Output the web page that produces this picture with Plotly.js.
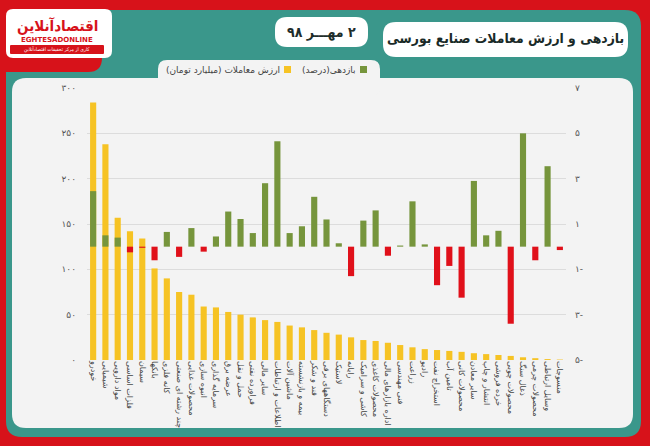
<!DOCTYPE html>
<html><head><meta charset="utf-8">
<script src="https://cdn.plot.ly/plotly-3.0.1.min.js"></script>
<style>html,body{margin:0;padding:0;background:#d7121a;}#chart{width:650px;height:446px;}</style>
</head><body><div id="chart"></div>
<script>
// ---- data ----
const categories = [
  "خودرو","شیمیایی","مواد دارویی","فلزات اساسی","سیمان","بانکها","کانه فلزی",
  "چند رشته ای صنعتی","محصولات غذایی","انبوه سازی","سرمایه گذاری","عرضه برق",
  "حمل و نقل","فراورده نفتی","سایر مالی","اطلاعات و ارتباطات","ماشین آلات",
  "بیمه و بازنشسته","قند و شکر","دستگاههای برقی","لاستیک","رایانه",
  "کاشی و سرامیک","محصولات کاغذی","اداره بازارهای مالی","فنی مهندسی","زراعت",
  "رادیو","استخراج نفت","تامین آب","محصولات کانی","سایر معادن","انتشار و چاپ",
  "خرده فروشی","محصولات چوبی","ذغال سنگ","محصولات چرمی","وسایل ارتباطی","منسوجات"
];
const tradeValue = [284,238,157,142,134,101,90,75,72,59,58,53,50,47,44,42,38,36,33,30,28,25,22,21,19,16.5,14,12,11,10,9,7.5,6.5,5.5,4.5,3,2,1,0.5];
const returnPct = [2.45,0.5,0.4,-0.25,-0.05,-0.6,0.65,-0.45,0.82,-0.22,0.45,1.55,1.22,0.6,2.8,4.65,0.6,0.9,2.2,1.2,0.15,-1.3,1.15,1.6,-0.4,0.05,2.0,0.1,-1.7,-0.85,-2.25,2.9,0.5,0.7,-3.4,5.0,-0.6,3.55,-0.15];
const leftTicks = [0,50,100,150,200,250,300];
const rightTicks = [-5,-3,-1,1,3,5,7];
const seriesNames = ["ارزش معاملات (میلیارد تومان)","بازدهی(درصد)"];

// ---- helpers ----
const faDigits = "۰۱۲۳۴۵۶۷۸۹";
function fa(n){ const s = String(Math.abs(n)).replace(/\d/g,d=>faDigits[d]); return n<0 ? s+"-" : s; }
const rtl = s => "\u202B"+s+"\u202C";

const W=650,H=446, M={l:87,r:84,t:88,b:86};
const PW=W-M.l-M.r, PH=H-M.t-M.b;
const px = x => (x-M.l)/PW;
const py = y => (H-M.b-y)/PH;
function P(x,y){return px(x).toFixed(5)+','+py(y).toFixed(5);}
function rrect(x0,y0,x1,y1,r){
  return 'M'+P(x0+r,y0)+' L'+P(x1-r,y0)+' Q'+P(x1,y0)+' '+P(x1,y0+r)+
    ' L'+P(x1,y1-r)+' Q'+P(x1,y1)+' '+P(x1-r,y1)+' L'+P(x0+r,y1)+
    ' Q'+P(x0,y1)+' '+P(x0,y1-r)+' L'+P(x0,y0+r)+' Q'+P(x0,y0)+' '+P(x0+r,y0)+' Z';
}
function shp(path,fill,layer){return {type:'path',xref:'paper',yref:'paper',path:path,fillcolor:fill,line:{width:0},layer:layer||'below'};}
function ann(text,x,y,opts){return Object.assign({text:text,x:px(x),y:py(y),xref:'paper',yref:'paper',showarrow:false},opts);}

const RED="#d7121a", TEAL="#3a978b", PANEL="#f3f3f3";
const FONT="DejaVu Sans, sans-serif";
const CFONT="DejaVu Sans Condensed, DejaVu Sans, sans-serif";

const shapes = [
  shp(rrect(6,10,641,437,16),TEAL),
  shp(rrect(-20,-20,102,72,14),RED),
  shp(rrect(12,78,633,428,14),PANEL),
  shp(rrect(158,60,380,96,9),PANEL),
  shp(rrect(6,9,112,58,7),"#ffffff"),
  shp(rrect(10,45,104,54,1),RED),
  shp(rrect(275,17,368,47,12),"#ffffff"),
  shp(rrect(383,22,628,57,13),"#ffffff"),
  shp(rrect(284,66,291,73,0),"#f6c324","above"),
  shp(rrect(360,66,367,73,0),"#76953c","above")
];

const annotations = [
  ann(rtl("اقتصادآنلاین"),57,26,{xanchor:'center',yanchor:'middle',font:{family:CFONT,size:15,color:RED,weight:'bold'}}),
  ann("EGHTESADONLINE",57,40,{xanchor:'center',yanchor:'middle',font:{family:FONT,size:7,color:RED,weight:'bold'}}),
  ann(rtl("کاری از مرکز تحقیقات اقتصادآنلاین"),57,49.5,{xanchor:'center',yanchor:'middle',font:{family:CFONT,size:5,color:"#ffffff"}}),
  ann(rtl("۲ مهـــر ۹۸"),321,32,{xanchor:'center',yanchor:'middle',font:{family:CFONT,size:14,color:"#1e2d2b",weight:'bold'}}),
  ann(rtl("بازدهی و ارزش معاملات صنایع بورسی"),505,39,{xanchor:'center',yanchor:'middle',font:{family:CFONT,size:13.8,color:"#1a2a28",weight:'bold'}}),
  ann(rtl(seriesNames[0]),282,70,{xanchor:'right',yanchor:'middle',font:{family:FONT,size:9,color:"#444"}}),
  ann(rtl(seriesNames[1]),358,70,{xanchor:'right',yanchor:'middle',font:{family:FONT,size:9,color:"#444"}})
];

const traces = [
  {type:'bar',name:seriesNames[0],x:categories,y:tradeValue,yaxis:'y',
   marker:{color:"#f6c324"},width:0.5,hoverinfo:'x+y'},
  {type:'bar',name:seriesNames[1],x:categories,y:returnPct,yaxis:'y2',
   marker:{color:returnPct.map(v=>v>=0?"#76953c":"#e0101a")},width:0.5,hoverinfo:'x+y'}
];

const layout = {
  width:W,height:H,margin:M,
  paper_bgcolor:RED,plot_bgcolor:'rgba(0,0,0,0)',
  barmode:'overlay',showlegend:false,
  font:{family:FONT},
  xaxis:{type:'category',tickangle:90,showgrid:false,zeroline:false,showline:false,ticks:'',
    tickfont:{family:FONT,size:8,color:"#444"},automargin:false,range:[-0.5,38.5]},
  yaxis:{range:[0,300],tickvals:leftTicks,ticktext:leftTicks.map(fa),showgrid:true,gridcolor:"#dcdcdc",gridwidth:1,
    zeroline:false,showline:false,ticks:'',tickfont:{family:FONT,size:9,color:"#555"},ticklabelstandoff:10,automargin:false},
  yaxis2:{overlaying:'y',side:'right',range:[-5,7],tickvals:rightTicks,ticktext:rightTicks.map(fa),showgrid:false,
    zeroline:false,showline:false,ticks:'',tickfont:{family:FONT,size:9,color:"#555"},ticklabelstandoff:8,automargin:false},
  shapes:shapes,annotations:annotations
};
Plotly.newPlot('chart',traces,layout,{displayModeBar:false,staticPlot:true});
</script></body></html>
